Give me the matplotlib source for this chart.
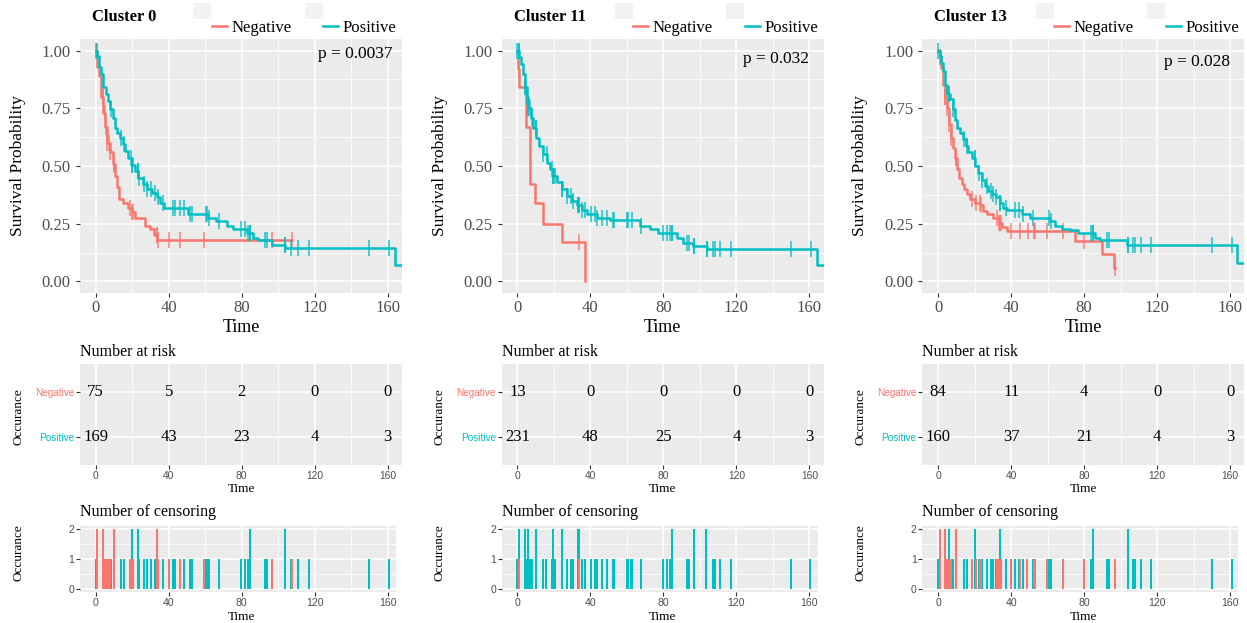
import numpy as np
import matplotlib.pyplot as plt
from matplotlib.lines import Line2D
from matplotlib.patches import Rectangle

W, H = 1247, 623
RED = "#F8766D"
TEAL = "#00BFC4"
SERIF = "Liberation Serif"
SANS = "Liberation Sans"

# ---- data ----
clusters = ["Cluster 0", "Cluster 11", "Cluster 13"]
pvals = ["p = 0.0037", "p = 0.032", "p = 0.028"]
groups = ["Negative", "Positive"]
risk_times = [0, 40, 80, 120, 160]

# Cluster 0
c0_neg_t = [0.9, 2.0, 2.9, 4.2, 5.3, 6.4, 7.9, 9.3, 10.6, 11.9, 13.0, 14.8, 17.9,
            19.7, 21.6, 27.0, 29.8, 32.0, 33.8]
c0_neg_s = [0.93, 0.89, 0.80, 0.73, 0.67, 0.60, 0.56, 0.51, 0.455, 0.41, 0.355, 0.34,
            0.32, 0.30, 0.275, 0.24, 0.225, 0.20, 0.178]
c0_neg_end = 107.6
c0_neg_cens = [0.7, 0.7, 3.8, 3.8, 4.9, 5.7, 6.4, 7.1, 7.9, 9.9, 9.9, 18.8, 19.9, 20.6,
               33.4, 33.4, 34.2, 40.0, 46.2, 59.3, 96.8, 107.6]
c0_pos_t = [0.9, 2.0, 2.9, 4.2, 5.6, 6.9, 7.8, 9.3, 10.6, 11.9, 13.3, 14.8, 16.0, 17.9,
            19.7, 21.5, 23.4, 26.1, 27.9, 30.7, 33.4, 35.2, 37.5, 50.8, 61.7, 66.0, 71.8,
            75.4, 82.7, 86.4, 89.0, 96.4, 103.7, 164.0]
c0_pos_s = [0.975, 0.93, 0.90, 0.84, 0.81, 0.78, 0.745, 0.71, 0.665, 0.645, 0.62, 0.595,
            0.565, 0.535, 0.505, 0.48, 0.45, 0.42, 0.40, 0.385, 0.365, 0.34, 0.318, 0.29,
            0.275, 0.26, 0.24, 0.225, 0.21, 0.19, 0.178, 0.16, 0.145, 0.073]
c0_pos_end = 172
c0_pos_cens = [0, 8.2, 13.7, 15.7, 19.2, 19.9, 19.9, 23.0, 23.0, 23.6, 26.5, 27.9, 30.1,
               32.7, 34.2, 36.7, 42.6, 43.7, 46.2, 48.4, 51.7, 52.8, 60.3, 61.2, 61.9,
               67.8, 79.8, 82.0, 83.7, 84.6, 84.6, 92.6, 93.7, 103.6, 103.6, 107.0, 110.7,
               116.9, 149.8, 160.5]
c0_risk_neg = [75, 5, 2, 0, 0]
c0_risk_pos = [169, 43, 23, 4, 3]

# Cluster 11
c11_neg_t = [0.2, 1.1, 4.7, 6.9, 9.7, 14.2, 24.3, 37.1]
c11_neg_s = [0.92, 0.84, 0.67, 0.42, 0.34, 0.25, 0.17, 0.0]
c11_neg_end = 37.1
c11_neg_cens = [0.7, 34.0]
c11_pos_t = [0.9, 1.8, 2.9, 4.2, 5.1, 6.0, 7.3, 8.8, 10.2, 12.1, 13.9, 16.1, 17.9, 19.7,
             21.9, 24.3, 27.0, 29.8, 32.5, 35.3, 38.0, 43.5, 50.8, 67.2, 72.7, 77.0,
             87.3, 91.0, 96.4, 103.7, 164.0]
c11_pos_s = [0.97, 0.94, 0.90, 0.84, 0.80, 0.75, 0.71, 0.665, 0.62, 0.585, 0.55, 0.515,
             0.485, 0.455, 0.43, 0.40, 0.37, 0.35, 0.33, 0.31, 0.29, 0.275, 0.265, 0.24,
             0.225, 0.21, 0.19, 0.168, 0.155, 0.14, 0.07]
c11_pos_end = 172
c11_pos_cens = [0, 0.7, 0.7, 4.2, 4.2, 5.1, 6.0, 6.0, 6.9, 7.8, 10.0, 10.0, 14.2, 16.0,
                19.0, 19.7, 19.7, 20.5, 24.3, 24.3, 27.0, 29.2, 30.3, 33.3, 33.3, 34.0,
                34.0, 35.3, 37.1, 40.2, 42.4, 43.8, 46.2, 48.9, 52.2, 53.1, 59.9, 60.8,
                62.6, 67.9, 80.0, 81.8, 83.6, 84.9, 84.9, 93.2, 93.9, 96.8, 96.8, 103.7,
                103.7, 107.0, 108.1, 111.0, 116.9, 149.8, 160.7]
c11_risk_neg = [13, 0, 0, 0, 0]
c11_risk_pos = [231, 48, 25, 4, 3]

# Cluster 13
c13_neg_t = [0.8, 1.6, 2.9, 3.8, 4.7, 5.8, 6.9, 8.0, 9.1, 10.2, 11.7, 13.0, 14.2, 15.7,
             17.5, 20.3, 23.0, 24.8, 26.7, 30.3, 33.1, 34.9, 37.6, 75.0, 89.7, 96.4]
c13_neg_s = [0.97, 0.925, 0.85, 0.80, 0.75, 0.68, 0.62, 0.58, 0.535, 0.485, 0.45, 0.42,
             0.40, 0.38, 0.355, 0.34, 0.33, 0.305, 0.29, 0.275, 0.255, 0.235, 0.218,
             0.175, 0.117, 0.058]
c13_neg_end = 97.0
c13_neg_cens = [1.1, 1.1, 4.0, 4.0, 4.7, 6.2, 7.1, 9.9, 9.9, 18.8, 21.0, 22.8, 23.6,
                32.5, 33.2, 33.9, 34.7, 39.8, 44.9, 49.0, 52.6, 53.3, 59.9, 68.2, 80.0,
                97.0]
c13_pos_t = [0.8, 1.6, 2.9, 4.0, 5.1, 6.6, 8.0, 9.3, 10.6, 12.1, 13.5, 15.3, 16.6, 18.4,
             20.3, 22.1, 23.9, 25.8, 27.6, 29.4, 31.8, 34.0, 35.8, 38.0, 45.8, 50.4,
             61.4, 64.1, 67.8, 72.3, 76.9, 86.0, 88.8, 103.4, 163.7]
c13_pos_s = [0.975, 0.945, 0.91, 0.85, 0.81, 0.79, 0.745, 0.70, 0.665, 0.645, 0.615,
             0.585, 0.56, 0.535, 0.50, 0.47, 0.44, 0.415, 0.39, 0.38, 0.365, 0.34, 0.32,
             0.31, 0.29, 0.275, 0.26, 0.24, 0.228, 0.222, 0.21, 0.19, 0.178, 0.16, 0.08]
c13_pos_end = 172
c13_pos_cens = [0, 5.8, 5.8, 8.0, 14.2, 16.0, 20.1, 20.1, 22.6, 24.1, 26.7, 28.9, 30.0,
                31.8, 34.0, 34.0, 37.3, 42.0, 44.2, 46.4, 51.9, 61.0, 62.1, 83.7, 84.8,
                84.8, 92.8, 93.5, 104.1, 104.1, 107.0, 107.8, 111.0, 116.9, 150.1, 161.0]
c13_risk_neg = [84, 11, 4, 0, 0]
c13_risk_pos = [160, 37, 21, 4, 3]

panels = [
    dict(neg=(c0_neg_t, c0_neg_s, c0_neg_end, c0_neg_cens),
         pos=(c0_pos_t, c0_pos_s, c0_pos_end, c0_pos_cens),
         risk=(c0_risk_neg, c0_risk_pos)),
    dict(neg=(c11_neg_t, c11_neg_s, c11_neg_end, c11_neg_cens),
         pos=(c11_pos_t, c11_pos_s, c11_pos_end, c11_pos_cens),
         risk=(c11_risk_neg, c11_risk_pos)),
    dict(neg=(c13_neg_t, c13_neg_s, c13_neg_end, c13_neg_cens),
         pos=(c13_pos_t, c13_pos_s, c13_pos_end, c13_pos_cens),
         risk=(c13_risk_neg, c13_risk_pos)),
]

# ---- layout (pixels) ----
col_dx = [0, 421.6, 842.4]
p_right = [392, 387.5, 387.5]
p_y = [54, 59, 62]


def px_axes(fig, left, top, right, bottom):
    return fig.add_axes([left / W, 1 - bottom / H, (right - left) / W, (bottom - top) / H])


def ftext(fig, x, y, s, **kw):
    fig.text(x / W, 1 - y / H, s, **kw)


def gg_style(ax, xmaj, xmin, ymaj, ymin):
    ax.set_facecolor("#EBEBEB")
    for sp in ax.spines.values():
        sp.set_visible(False)
    ax.set_xticks(xmaj)
    ax.set_xticks(xmin, minor=True)
    ax.set_yticks(ymaj)
    ax.set_yticks(ymin, minor=True)
    ax.grid(True, which="major", color="white", lw=1.1)
    ax.grid(True, which="minor", color="white", lw=0.55)
    ax.tick_params(which="minor", length=0)
    ax.tick_params(which="major", length=2.6, width=0.8, color="#333333",
                   labelcolor="#4D4D4D")
    ax.set_axisbelow(True)


def surv_at(t, s, x):
    idx = np.searchsorted(t, x, side="right") - 1
    s = np.asarray(s)
    return np.where(idx < 0, 1.0, s[np.clip(idx, 0, None)])


fig = plt.figure(figsize=(W / 100, H / 100), dpi=100)

for i, p in enumerate(panels):
    dx = col_dx[i]

    # Kaplan-Meier curves
    ax = px_axes(fig, 80 + dx, 39, 402 + dx, 293)
    gg_style(ax, [0, 40, 80, 120, 160], [20, 60, 100, 140],
             [0, 0.25, 0.5, 0.75, 1.0], [0.125, 0.375, 0.625, 0.875])
    for key, col in (("neg", RED), ("pos", TEAL)):
        t, s, end, cens = p[key]
        tt = np.concatenate([[0], t, [end]])
        ss = np.concatenate([[1.0], s, [s[-1]]])
        ax.step(tt, ss, where="post", color=col, lw=1.8)
        ax.plot(cens, surv_at(t, s, cens), ls="none", marker="|", ms=11, mew=1.4,
                color=col, alpha=0.7)
    ax.set_xlim(-8.6, 167.8)
    ax.set_ylim(-0.05, 1.05)
    ax.set_yticklabels(["0.00", "0.25", "0.50", "0.75", "1.00"])
    for lab in ax.get_xticklabels() + ax.get_yticklabels():
        lab.set_fontfamily(SERIF)
        lab.set_fontsize(12)
    ax.tick_params(axis="y", pad=4)
    ax.tick_params(axis="x", pad=2.5)
    ftext(fig, p_right[i] + dx, p_y[i], pvals[i], family=SERIF, size=12.5,
          ha="right", va="center")
    ftext(fig, 18 + dx, 166, "Survival Probability", family=SERIF, size=12.5,
          rotation=90, ha="center", va="center")
    ftext(fig, 241 + dx, 328, "Time", family=SERIF, size=13, ha="center", va="center")
    ftext(fig, 92 + dx, 17, clusters[i], family=SERIF, size=12, weight="bold",
          ha="left", va="center")

    # legend
    for lx, col, name in ((211.7, RED, groups[0]), (323.3, TEAL, groups[1])):
        fig.add_artist(Rectangle(((lx - 18.5 + dx) / W, 1 - 19 / H), 18 / W, 16 / H,
                                 transform=fig.transFigure, color="#F2F2F2", lw=0))
        fig.add_artist(Line2D([(lx + dx) / W, (lx + 15 + dx) / W], [1 - 25.5 / H] * 2,
                              transform=fig.transFigure, color=col, lw=1.8))
        ftext(fig, lx + 19.5 + dx, 28.5, name, family=SERIF, size=12,
              ha="left", va="center")

    # number at risk table
    ar = px_axes(fig, 80 + dx, 364, 402 + dx, 465)
    gg_style(ar, [0, 40, 80, 120, 160], [20, 60, 100, 140], [1, 2], [])
    ar.set_xlim(-8.6, 167.8)
    ar.set_ylim(0.4, 2.6)
    for row, vals in ((2, p["risk"][0]), (1, p["risk"][1])):
        for tx, v in zip(risk_times, vals):
            ar.text(tx, row, str(v), family=SERIF, size=12, ha="center",
                    va="center", color="black")
    ar.set_yticklabels(["Positive", "Negative"], family=SANS, size=7.2)
    ar.get_yticklabels()[0].set_color(TEAL)
    ar.get_yticklabels()[1].set_color(RED)
    for lab in ar.get_xticklabels():
        lab.set_fontfamily(SANS)
        lab.set_fontsize(7.4)
    ar.tick_params(axis="both", pad=1.5)
    ftext(fig, 80 + dx, 352, "Number at risk", family=SERIF, size=11.5,
          ha="left", va="center")
    ftext(fig, 18 + dx, 417, "Occurance", family=SERIF, size=9.5, rotation=90,
          ha="center", va="center")
    ftext(fig, 241 + dx, 489, "Time", family=SERIF, size=9.5, ha="center", va="center")

    # number of censoring
    ac = px_axes(fig, 80 + dx, 526, 396 + dx, 592)
    gg_style(ac, [0, 40, 80, 120, 160], [20, 60, 100, 140], [0, 1, 2], [0.5, 1.5])
    for key, col in (("pos", TEAL), ("neg", RED)):
        u, c = np.unique(p[key][3], return_counts=True)
        ac.bar(u, c, width=1.1, color=col, lw=0)
    ac.set_xlim(-8.6, 164.6)
    ac.set_ylim(-0.1, 2.1)
    for lab in ac.get_xticklabels() + ac.get_yticklabels():
        lab.set_fontfamily(SANS)
        lab.set_fontsize(7.6)
    ac.tick_params(axis="both", pad=1.5)
    ftext(fig, 80 + dx, 512, "Number of censoring", family=SERIF, size=11.5,
          ha="left", va="center")
    ftext(fig, 18 + dx, 553, "Occurance", family=SERIF, size=9.5, rotation=90,
          ha="center", va="center")
    ftext(fig, 241 + dx, 617, "Time", family=SERIF, size=9.5, ha="center", va="center")

fig.savefig("out.png", dpi=100)
